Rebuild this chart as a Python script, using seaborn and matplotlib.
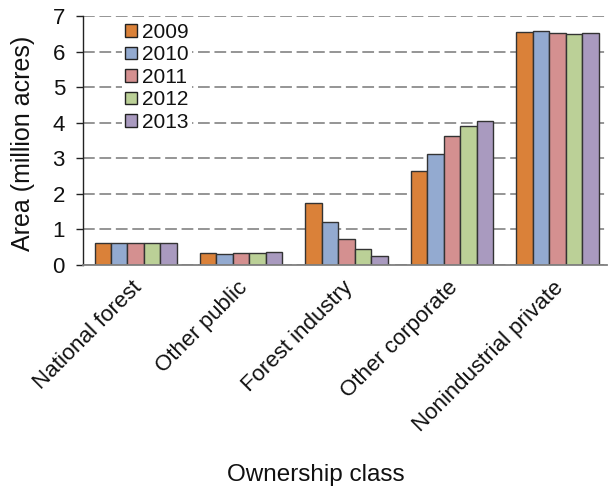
import matplotlib
matplotlib.use("Agg")
import matplotlib.pyplot as plt
import matplotlib.transforms as mtransforms
import numpy as np
import pandas as pd
import seaborn as sns

# Forest land area by ownership class and inventory year (million acres)
classes = ["National forest", "Other public", "Forest industry",
           "Other corporate", "Nonindustrial private"]
years = ["2009", "2010", "2011", "2012", "2013"]
area_2009 = [0.63, 0.34, 1.73, 2.63, 6.54]
area_2010 = [0.63, 0.30, 1.21, 3.11, 6.58]
area_2011 = [0.63, 0.34, 0.74, 3.62, 6.51]
area_2012 = [0.63, 0.34, 0.45, 3.91, 6.48]
area_2013 = [0.63, 0.37, 0.26, 4.06, 6.51]
yticks = [0, 1, 2, 3, 4, 5, 6, 7]

series = [area_2009, area_2010, area_2011, area_2012, area_2013]
df = pd.DataFrame(
    [(c, y, v) for y, vals in zip(years, series) for c, v in zip(classes, vals)],
    columns=["Ownership class", "Year", "Area"],
)

colors = ["#DA8139", "#93AAD0", "#D49090", "#BBD097", "#A99ABF"]

sns.set_style("white")
plt.rcParams["font.family"] = ["Liberation Sans", "DejaVu Sans"]
plt.rcParams["text.color"] = "#111111"
plt.rcParams["axes.labelcolor"] = "#111111"
plt.rcParams["xtick.color"] = "#111111"
plt.rcParams["ytick.color"] = "#111111"

fig = plt.figure(figsize=(6.10, 4.86), dpi=100)
ax = fig.add_axes([83 / 610, 1 - 265 / 486, 524 / 610, 249 / 486])

sns.barplot(data=df, x="Ownership class", y="Area", hue="Year",
            palette=colors, width=0.78, gap=0, edgecolor="#333333",
            linewidth=1.0, ax=ax, errorbar=None, saturation=1)

ax.set_ylim(0, 7)
ax.set_xlim(-0.5, 4.47)
ax.set_yticks(yticks)
ax.set_yticklabels([str(t) for t in yticks], fontsize=16)
ax.set_axisbelow(True)
ax.yaxis.grid(True, linestyle=(0, (6.5, 2.6)), color="#8c8c8c", linewidth=1.3)
ax.xaxis.grid(False)

for s in ["top", "right"]:
    ax.spines[s].set_visible(False)
ax.spines["left"].set_color("#222222")
ax.spines["left"].set_linewidth(1.0)
ax.spines["bottom"].set_color("#808080")
ax.spines["bottom"].set_linewidth(1.3)

ax.tick_params(axis="y", direction="out", length=5, width=1, color="#222222",
               left=True, pad=8)
ax.tick_params(axis="x", length=0, bottom=False, pad=14)

# Rotated category labels, ending just right of each group centre
ax.set_xticks(range(len(classes)))
ax.set_xticklabels(classes, fontsize=16, rotation=45, ha="right",
                   va="center", rotation_mode="anchor")
shift = mtransforms.ScaledTranslation(3 / 100.0, 0, fig.dpi_scale_trans)
for lab in ax.get_xticklabels():
    lab.set_transform(lab.get_transform() + shift)

ax.set_ylabel("Area (million acres)", fontsize=18)
ax.yaxis.set_label_coords(-0.092, 0.49)
ax.set_xlabel("Ownership class", fontsize=17.5)
ax.xaxis.set_label_coords(0.445, -0.80)

leg = ax.legend(loc="upper left", bbox_to_anchor=(0.075, 0.985), fontsize=15,
                frameon=True, facecolor="white", edgecolor="none",
                framealpha=1, fancybox=False, borderpad=0.15,
                handlelength=0.55, handleheight=0.55, handletextpad=0.25,
                labelspacing=0.17, borderaxespad=0)
for h in leg.legend_handles:
    h.set_edgecolor("#222222")
    h.set_linewidth(1.0)

fig.savefig("out.png", dpi=100)
